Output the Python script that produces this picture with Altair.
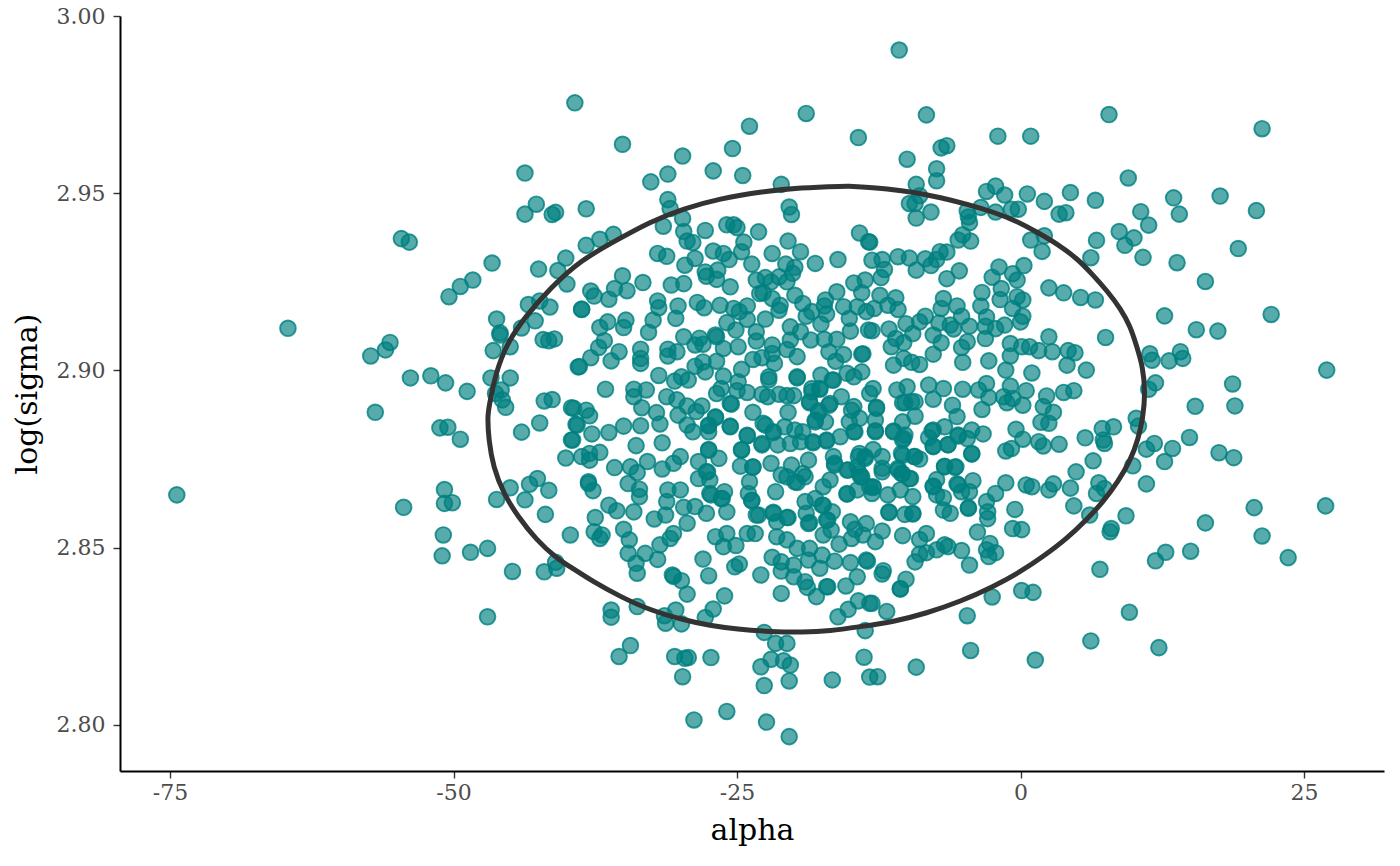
import altair as alt
import pandas as pd

alpha = [
-64.6,-54.6,-53.9,-46.6,-48.3,-49.4,-50.4,-43.7,-42.7,-43.7,-41.3,-41.0,-39.3,-42.5,-40.8,-40.1,-40.0,-43.4,-42.4,-41.5,-38.7,-46.2,-45.9,-45.9,-44.0,-42.8,-42.1,-41.6,-41.1,-46.5,-45.0,-39.0,-55.6,-56.0,-57.3,-53.8,-52.0,-50.7,-48.8,-46.7,-45.0,-45.8,-46.3,-45.7,-45.4,-42.0,-41.3,-39.6,-56.9,
-51.2,-50.5,-49.4,-44.0,-42.4,-39.6,-39.2,-40.1,-38.7,-74.4,-54.4,-50.8,-50.8,-50.1,-50.9,-51.0,-48.5,-47.0,-44.8,-42.0,-40.9,-41.0,-39.7,-41.9,-43.7,-46.2,-45.0,-43.3,-42.6,-41.6,-47.0,
-35.1,-18.9,-14.3,-23.9,-25.4,-29.8,-31.1,-32.6,-27.1,-24.5,-21.1,-31.1,-30.9,-38.3,-20.4,-20.2,-29.8,-31.5,-27.8,-25.9,-25.3,-25.0,-23.1,-14.2,-35.9,-37.1,-38.3,-29.7,-29.4,-28.9,-24.4,-20.5,-19.4,-27.1,-26.2,-24.6,-21.9,-32.0,-31.2,-13.4,
-29.6,-28.7,-27.8,-26.7,-26.8,-25.7,-27.7,-25.6,-23.7,-18.1,-16.1,-20.7,-19.9,-20.1,-21.3,-20.6,-23.3,-22.5,-22.0,-22.7,-23.0,-21.9,-19.9,-19.2,-21.2,-21.3,-17.2,-16.2,-14.7,-13.7,-14.0,-17.3,-15.6,-14.4,-13.6,-18.9,-18.4,-17.1,-15.1,-17.6,-15.0,-13.4,
-35.8,-35.1,-33.3,-34.7,-30.8,-29.7,-37.9,-37.6,-36.3,-38.7,-32.0,-31.9,-30.2,-30.4,-28.5,-27.9,-26.5,-25.3,-24.8,-24.1,-24.1,-22.5,-25.9,-32.4,-32.8,-34.8,-35.0,-36.4,-37.1,-36.7,-37.2,-35.4,-36.1,-37.9,-38.9,-33.5,-33.5,-33.5,-31.1,-31.1,-29.7,-30.3,-28.3,-28.7,-28.0,-26.8,-26.9,-26.2,-24.9,-25.1,-23.3,-23.3,-21.9,-21.9,-20.3,-19.4,-20.3,-20.6,-19.7,-18.5,-17.3,-16.2,-16.9,-15.6,-14.0,-16.3,-23.6,-22.8,-21.7,-26.8,-28.0,-28.7,-27.8,-24.6,
-31.9,-30.5,-29.9,-29.3,-26.2,-24.9,-22.2,-22.2,-19.7,-17.6,-16.6,-15.3,-14.7,-14.0,-36.6,-34.1,-34.1,-33.0,-26.4,-26.8,-25.0,-24.1,-22.8,-22.3,-21.3,-20.6,-20.0,-17.7,-18.4,-15.8,-13.3,-31.2,-30.3,-33.4,-29.4,-28.1,-25.5,-18.6,-16.9,-14.7,-39.4,-38.3,-38.0,-32.1,-30.2,-28.6,-26.9,-23.6,-20.5,-17.8,-14.9,
-39.1,-35.0,-33.5,-31.8,-29.4,-27.5,-25.6,-22.5,-20.8,-21.8,-18.1,-15.1,-37.8,-36.3,-39.5,-28.9,-27.5,-24.1,-19.4,-17.1,-14.7,-33.9,-31.6,-22.8,-18.3,-37.1,-38.0,-38.0,-24.6,-27.5,-30.0,-35.8,-34.4,-32.9,-33.8,-31.6,-30.6,-28.4,-26.6,-27.7,-24.7,-23.6,-22.0,-20.2,-18.7,-16.4,-14.3,-13.7,-15.2,-14.2,-19.2,-38.1,
-38.1,-37.7,-36.3,-35.6,-34.1,-33.6,-34.6,-33.6,-31.1,-30.0,-31.2,-28.7,-29.7,-27.3,-26.1,-26.4,-25.9,-27.7,-32.3,-31.3,-29.4,-37.5,-35.0,-37.6,-36.9,-37.1,-34.5,-33.1,-34.6,-33.9,-33.8,-32.0,-31.8,-30.9,-30.6,-30.7,-30.6,-29.9,-29.4,-28.0,-27.5,-26.1,-27.1,-27.8,-26.9,-26.2,-25.9,-25.1,-24.1,-23.4,-25.2,-24.8,-22.9,-21.1,-21.5,-20.6,-21.9,-21.1,-21.1,-20.0,-20.0,-19.0,-18.8,-19.7,-18.6,-17.5,-18.7,-17.7,-16.4,-17.1,-17.0,-18.0,-15.4,-14.4,-15.0,-13.6,-16.0,-14.9,-14.6,-13.9,-17.4,-16.7,-15.0,-13.6,-17.0,-16.6,-18.7,-18.9,-19.0,-17.5,-20.6,-21.8,-21.5,-23.1,-23.7,-24.0,-21.6,-15.3,-14.4,-17.4,-19.7,-23.9,-27.4,-28.4,-13.3,
-16.1,-15.2,-14.3,-13.3,-36.1,-36.1,-33.8,-31.4,-31.3,-30.4,-29.9,-22.6,-21.6,-20.6,-13.7,-34.4,-35.4,-30.5,-29.6,-29.3,-27.3,-22.0,-22.9,-20.9,-20.3,-20.4,-22.6,-16.6,-29.8,-13.8,-25.9,-28.8,-22.4,-20.4,-13.3,
-10.7,-8.3,7.8,21.3,-2.0,0.9,-6.5,-7.0,-10.0,-7.4,-7.4,9.5,-9.2,-2.2,-3.0,-1.4,0.6,4.4,6.6,2.1,13.5,17.6,20.8,14.0,10.6,11.3,3.4,4.0,-0.2,-0.8,-2.2,-3.5,-4.7,-4.6,-4.5,-8.9,-9.3,-9.8,-7.9,-9.2,8.7,10.0,9.2,6.7,6.2,10.8,13.8,19.2,16.3,12.7,15.5,17.4,22.1,27.0,2.1,0.9,1.9,-4.4,-5.1,-5.5,-13.3,-6.5,-7.1,-7.4,-8.4,-7.9,-9.2,-9.8,-10.8,-12.2,-13.1,-12.0,-12.3,-12.4,-11.0,-11.7,-10.8,-12.9,
-5.4,-6.5,-1.9,0.3,-2.5,-0.7,-0.3,-1.7,2.5,3.8,5.3,6.6,-3.4,-6.8,-7.0,-5.6,-5.2,-3.5,-1.8,-0.3,0.2,-0.7,-3.0,0.2,0.0,-1.4,-2.2,-3.1,-4.5,-6.2,-5.9,-7.2,-8.4,-8.9,-10.1,-13.1,-11.6,-9.5,-7.7,-11.0,-10.3,-7.0,-11.4,-7.7,-4.7,-5.2,-3.1,2.5,7.5,-0.9,0.8,0.1,1.6,2.8,4.2,4.8,11.4,11.6,13.1,14.1,14.3,-0.9,-2.8,-5.1,-13.9,-10.3,-9.6,-8.9,-11.2,4.1,-1.3,1.0,5.8,
18.7,15.4,18.9,11.9,11.3,2.3,3.8,4.7,0.5,-0.9,-3.0,-3.7,-5.1,-6.8,-8.1,-10.0,-10.9,-13.0,-2.8,-1.5,-1.2,0.2,-0.7,2.0,2.9,1.8,2.5,-3.4,-6.0,-5.6,-7.7,-10.4,-9.6,-9.3,-12.7,-12.8,-12.8,-10.4,-11.2,-10.2,-10.4,-6.7,-7.8,-8.1,-7.7,-6.4,-5.5,-4.7,-4.3,-3.3,-4.3,-0.4,0.2,-0.8,-1.3,1.6,2.0,3.4,5.7,7.2,8.2,7.3,7.4,10.2,10.4,11.8,11.1,13.4,14.9,12.7,17.5,18.8,9.9,6.4,4.9,11.1,6.9,7.4,6.7,4.4,2.9,2.5,0.5,1.0,-1.3,-2.2,-3.0,-2.9,-2.9,-4.6,-4.2,-4.5,-5.2,-5.6,-5.8,-6.7,-7.4,-7.7,-7.4,-6.8,-6.8,-6.2,-0.5,4.7,6.1,9.3,8.0,7.9,-0.7,0.1,-3.8,-10.4,-8.3,-8.9,-12.2,-12.8,-11.6,-10.2,-9.5,-11.7,-10.6,-9.5,-9.7,-10.5,-10.8,-12.2,-12.2,-13.0,-10.4,-9.4,-8.9,-13.0,-13.1,-14.0,
-6.7,-6.4,-7.4,-8.3,-8.9,-9.3,-5.2,-4.5,-2.7,-3.0,-2.2,-2.8,-13.5,-12.1,-12.2,-10.1,-10.6,-10.6,-13.1,-11.8,-2.5,0.1,1.1,-4.7,-12.6,-9.2,-4.4,1.3,6.2,9.6,12.2,7.0,11.9,12.8,15.0,23.6,21.3,16.3,20.6,26.9,
-22.7,-21.8,-20.8,-19.9,-19.2,-22.8,-20.3,-19.4,-18.3,-21.4,-18.1,-17.2,-17.8,-16.8,-18.6,-17.7,-18.4,-16.5,-15.1,-14.6,-15.9,-17.1,-12.8,-12.8,-12.7,-14.7,-14.2,-10.2,-9.3,-10.3,-11.2,-7.7,-7.7,-6.4,-4.7,-5.5,-4.3,-9.3,-10.5,-6.7,-5.7,-7.4,-4.5,-5.5,-7.7,-4.6,-6.2,-6.8,-9.5,-9.5,-10.6,-9.8,-10.4,-10.8,-12.2,-13.7,-14.2,-12.2,-14.4,-15.3,-14.1,-13.0,-14.4,-15.3,-11.7,-11.6,-16.4,-16.5,-18.7,-20.2,-21.1,-20.6,-19.0,-19.9,-17.4,-16.8,-21.6,-19.0,-18.1,-17.4,-16.6,-17.1,-23.3,-21.8,-21.5,-20.5,-18.9,-18.6,-23.7,-24.0,-23.9,-23.6,-24.7,-24.6,-24.1,-27.5,-26.6,-27.6,-27.4,-26.3,-25.9,-27.5,-26.9,-25.6,-25.6,-24.6,-19.7,
]
log_sigma = [
2.9119,2.9372,2.9362,2.9303,2.9255,2.9237,2.9208,2.9557,2.9469,2.9441,2.9440,2.9446,2.9755,2.9286,2.9282,2.9317,2.9244,2.9186,2.9196,2.9179,2.9173,2.9145,2.9106,2.9100,2.9120,2.9140,2.9087,2.9084,2.9089,2.9056,2.9067,2.9010,2.9079,2.9058,2.9041,2.8979,2.8985,2.8965,2.8941,2.8979,2.8979,2.8945,2.8935,2.8917,2.8896,2.8914,2.8918,2.8895,2.8882,
2.8838,2.8840,2.8806,2.8826,2.8852,2.8804,2.8848,2.8753,2.8757,2.8649,2.8614,2.8664,2.8625,2.8627,2.8536,2.8477,2.8487,2.8498,2.8433,2.8432,2.8442,2.8459,2.8536,2.8594,2.8635,2.8636,2.8669,2.8679,2.8695,2.8662,2.8305,
2.9638,2.9725,2.9657,2.9689,2.9626,2.9605,2.9554,2.9532,2.9563,2.9550,2.9525,2.9482,2.9457,2.9456,2.9461,2.9440,2.9429,2.9407,2.9395,2.9411,2.9411,2.9403,2.9391,2.9388,2.9384,2.9370,2.9353,2.9392,2.9365,2.9361,2.9362,2.9365,2.9335,2.9337,2.9330,2.9335,2.9330,2.9330,2.9322,2.9363,
2.9297,2.9316,2.9278,2.9283,2.9257,2.9313,2.9266,2.9236,2.9300,2.9302,2.9313,2.9300,2.9291,2.9274,2.9264,2.9250,2.9255,2.9262,2.9250,2.9219,2.9217,2.9203,2.9212,2.9189,2.9184,2.9170,2.9199,2.9222,2.9247,2.9255,2.9219,2.9182,2.9180,2.9180,2.9166,2.9153,2.9166,2.9159,2.9147,2.9131,2.9111,2.9114,
2.9231,2.9267,2.9248,2.9225,2.9241,2.9245,2.9224,2.9210,2.9201,2.9172,2.9196,2.9177,2.9182,2.9147,2.9192,2.9177,2.9184,2.9175,2.9166,2.9182,2.9144,2.9145,2.9135,2.9142,2.9108,2.9142,2.9121,2.9137,2.9121,2.9084,2.9065,2.9053,2.9027,2.9036,2.9011,2.9060,2.9034,2.9020,2.9060,2.9041,2.9095,2.9053,2.9091,2.9072,2.9074,2.9095,2.9100,2.9062,2.9067,2.9114,2.9109,2.9083,2.9072,2.9048,2.9123,2.9109,2.9086,2.9059,2.9039,2.9086,2.9088,2.9088,2.9053,2.9045,2.9046,2.9026,2.9031,2.9036,2.9020,2.9026,2.9024,2.9012,2.8996,2.9003,
2.8986,2.8970,2.8982,2.8973,2.8984,2.8968,2.8982,2.8974,2.8979,2.8987,2.8973,2.8992,2.8982,2.8996,2.8947,2.8947,2.8926,2.8945,2.8949,2.8935,2.8943,2.8938,2.8933,2.8926,2.8933,2.8929,2.8929,2.8947,2.8940,2.8926,2.8935,2.8926,2.8917,2.8895,2.8900,2.8900,2.8905,2.8909,2.8902,2.8898,2.8893,2.8888,2.8872,2.8881,2.8874,2.8884,2.8867,2.8882,2.8882,2.8882,2.8888,
2.8846,2.8843,2.8844,2.8849,2.8846,2.8844,2.8843,2.8846,2.8841,2.8825,2.8855,2.8855,2.8821,2.8825,2.8804,2.8827,2.8827,2.8816,2.8799,2.8801,2.8827,2.8788,2.8796,2.8790,2.8796,2.8769,2.8766,2.8747,2.8775,2.8777,2.8757,2.8726,2.8728,2.8743,2.8712,2.8722,2.8738,2.8743,2.8752,2.8714,2.8730,2.8727,2.8738,2.8733,2.8747,2.8733,2.8757,2.8757,2.8719,2.8709,2.8709,2.8686,
2.8681,2.8661,2.8620,2.8604,2.8601,2.8644,2.8681,2.8665,2.8663,2.8663,2.8630,2.8616,2.8614,2.8649,2.8658,2.8639,2.8601,2.8597,2.8581,2.8592,2.8569,2.8585,2.8552,2.8545,2.8536,2.8526,2.8522,2.8484,2.8484,2.8456,2.8428,2.8467,2.8508,2.8526,2.8540,2.8423,2.8419,2.8407,2.8369,2.8468,2.8421,2.8364,2.8327,2.8303,2.8531,2.8503,2.8540,2.8506,2.8540,2.8540,2.8446,2.8454,2.8423,2.8371,2.8531,2.8522,2.8473,2.8460,2.8434,2.8451,2.8418,2.8404,2.8388,2.8498,2.8498,2.8479,2.8465,2.8442,2.8462,2.8390,2.8578,2.8362,2.8392,2.8418,2.8458,2.8465,2.8510,2.8526,2.8552,2.8536,2.8536,2.8550,2.8573,2.8568,2.8390,2.8601,2.8568,2.8597,2.8630,2.8620,2.8585,2.8600,2.8573,2.8592,2.8632,2.8653,2.8658,2.8651,2.8663,2.8672,2.8684,2.8686,2.8691,2.8695,2.8672,
2.8305,2.8326,2.8350,2.8343,2.8324,2.8304,2.8334,2.8308,2.8287,2.8324,2.8285,2.8261,2.8230,2.8230,2.8266,2.8224,2.8193,2.8193,2.8188,2.8190,2.8190,2.8185,2.8164,2.8181,2.8169,2.8124,2.8111,2.8127,2.8136,2.8191,2.8038,2.8014,2.8008,2.7967,2.8135,
2.9904,2.9721,2.9722,2.9682,2.9661,2.9661,2.9634,2.9628,2.9596,2.9569,2.9535,2.9543,2.9525,2.9520,2.9505,2.9495,2.9498,2.9502,2.9480,2.9477,2.9487,2.9492,2.9451,2.9441,2.9448,2.9410,2.9441,2.9445,2.9455,2.9455,2.9447,2.9460,2.9450,2.9433,2.9417,2.9493,2.9471,2.9471,2.9447,2.9430,2.9392,2.9374,2.9353,2.9367,2.9318,2.9319,2.9304,2.9344,2.9251,2.9154,2.9115,2.9111,2.9158,2.9001,2.9380,2.9368,2.9336,2.9365,2.9383,2.9368,2.9362,2.9334,2.9335,2.9313,2.9315,2.9296,2.9283,2.9317,2.9321,2.9313,2.9311,2.9285,2.9262,2.9212,2.9205,2.9184,2.9172,2.9175,
2.9281,2.9259,2.9292,2.9296,2.9263,2.9273,2.9255,2.9231,2.9233,2.9219,2.9206,2.9199,2.9220,2.9203,2.9175,2.9182,2.9153,2.9182,2.9200,2.9208,2.9199,2.9175,2.9151,2.9153,2.9137,2.9128,2.9118,2.9125,2.9125,2.9128,2.9117,2.9134,2.9153,2.9137,2.9132,2.9112,2.9117,2.9104,2.9100,2.9090,2.9078,2.9078,2.9067,2.9046,2.9081,2.9065,2.9090,2.9095,2.9093,2.9076,2.9067,2.9067,2.9056,2.9053,2.9056,2.9050,2.9047,2.9029,2.9027,2.9053,2.9034,2.9041,2.9027,2.9023,2.9047,2.9034,2.9023,2.9017,2.9015,2.9015,2.9001,2.8993,2.9001,
2.8962,2.8899,2.8900,2.8965,2.8947,2.8928,2.8938,2.8943,2.8943,2.8956,2.8963,2.8945,2.8947,2.8949,2.8959,2.8954,2.8945,2.8949,2.8924,2.8926,2.8909,2.8902,2.8921,2.8898,2.8882,2.8854,2.8851,2.8890,2.8902,2.8870,2.8919,2.8909,2.8912,2.8871,2.8896,2.8860,2.8830,2.8855,2.8829,2.8818,2.8804,2.8841,2.8829,2.8811,2.8787,2.8791,2.8815,2.8808,2.8832,2.8821,2.8764,2.8834,2.8806,2.8780,2.8773,2.8799,2.8787,2.8792,2.8810,2.8836,2.8841,2.8804,2.8794,2.8865,2.8843,2.8794,2.8778,2.8780,2.8811,2.8743,2.8768,2.8754,2.8731,2.8745,2.8714,2.8680,2.8683,2.8667,2.8653,2.8668,2.8680,2.8663,2.8677,2.8672,2.8683,2.8653,2.8630,2.8601,2.8582,2.8613,2.8689,2.8658,2.8658,2.8680,2.8727,2.8728,2.8692,2.8672,2.8649,2.8641,2.8606,2.8597,2.8608,2.8618,2.8592,2.8590,2.8554,2.8545,2.8554,2.8551,2.8544,2.8534,2.8540,2.8523,2.8547,2.8517,2.8599,2.8594,2.8595,2.8649,2.8663,2.8644,2.8695,2.8709,2.8719,2.8714,2.8757,2.8777,2.8761,2.8757,2.8750,2.8670,2.8653,2.8700,
2.8508,2.8503,2.8494,2.8486,2.8482,2.8460,2.8492,2.8451,2.8512,2.8494,2.8486,2.8475,2.8462,2.8435,2.8426,2.8411,2.8385,2.8383,2.8343,2.8320,2.8361,2.8379,2.8374,2.8308,2.8136,2.8163,2.8210,2.8183,2.8237,2.8318,2.8218,2.8439,2.8463,2.8487,2.8490,2.8472,2.8533,2.8570,2.8613,2.8618,
2.8851,2.8827,2.8841,2.8832,2.8827,2.8794,2.8794,2.8799,2.8799,2.8790,2.8860,2.8855,2.8886,2.8907,2.8912,2.8949,2.8949,2.8973,2.8855,2.8827,2.8813,2.8804,2.8827,2.8860,2.8893,2.8898,2.8865,2.8909,2.8912,2.8808,2.8827,2.8832,2.8785,2.8790,2.8808,2.8818,2.8766,2.8757,2.8766,2.8730,2.8728,2.8649,2.8658,2.8677,2.8674,2.8611,2.8597,2.8606,2.8597,2.8644,2.8663,2.8695,2.8709,2.8724,2.8757,2.8752,2.8766,2.8724,2.8728,2.8719,2.8700,2.8672,2.8663,2.8653,2.8649,2.8601,2.8738,2.8757,2.8747,2.8733,2.8705,2.8700,2.8700,2.8686,2.8672,2.8691,2.8658,2.8630,2.8639,2.8620,2.8601,2.8578,2.8592,2.8597,2.8573,2.8585,2.8597,2.8571,2.8634,2.8653,2.8686,2.8728,2.8730,2.8777,2.8817,2.8775,2.8752,2.8714,2.8653,2.8639,2.8601,2.8846,2.8869,2.8841,2.8907,2.9003,2.8982,
]
ellipse_alpha = [-15.3,-14.2,-11.8,-9.2,-7.1,-4.7,-2.4,-0.3,1.4,3.2,5.0,6.4,7.7,8.8,9.7,10.2,10.8,11.0,10.8,10.4,9.7,8.6,7.3,5.8,4.1,2.0,0.0,-2.4,-5.3,-8.3,-11.2,-14.2,-16.8,-19.2,-22.1,-25.0,-27.4,-29.7,-32.7,-35.3,-37.7,-39.7,-40.9,-42.7,-44.3,-45.6,-46.5,-46.9,-47.0,-46.9,-46.3,-45.3,-43.7,-41.5,-38.8,-35.6,-32.7,-29.7,-26.5,-23.0,-19.4,-15.3,-15.3,-14.2]
ellipse_sigma = [2.9520,2.9518,2.9513,2.9502,2.9488,2.9469,2.9447,2.9421,2.9391,2.9358,2.9316,2.9269,2.9222,2.9175,2.9123,2.9072,2.9010,2.8935,2.8869,2.8808,2.8747,2.8686,2.8630,2.8578,2.8526,2.8475,2.8432,2.8390,2.8348,2.8315,2.8291,2.8277,2.8265,2.8261,2.8263,2.8270,2.8280,2.8296,2.8324,2.8362,2.8404,2.8446,2.8470,2.8522,2.8587,2.8653,2.8728,2.8804,2.8869,2.8893,2.8992,2.9076,2.9151,2.9231,2.9311,2.9368,2.9419,2.9457,2.9485,2.9504,2.9516,2.9520,2.9520,2.9518]
x_ticks = [-75, -50, -25, 0, 25]
y_ticks = [2.80, 2.85, 2.90, 2.95, 3.00]

n = min(len(alpha), len(log_sigma))
points = pd.DataFrame({"alpha": alpha[:n], "log_sigma": log_sigma[:n]}).drop_duplicates()
ring = pd.DataFrame({"alpha": ellipse_alpha, "log_sigma": ellipse_sigma, "i": list(range(len(ellipse_alpha)))})

FONT = "DejaVu Serif"
x = alt.X("alpha:Q", scale=alt.Scale(domain=[-79.41, 32.05], nice=False, zero=False),
          axis=alt.Axis(values=x_ticks, title="alpha", grid=False, labelExpr="'' + datum.value",
                        titleY=44, tickSize=7, labelPadding=4))
y = alt.Y("log_sigma:Q", scale=alt.Scale(domain=[2.787, 3.0], nice=False, zero=False),
          axis=alt.Axis(values=y_ticks, title="log(sigma)", grid=False, format=".2f",
                        titleX=-78, tickSize=7, labelPadding=8))

dots = alt.Chart(points).mark_point(filled=False, shape="circle", size=245, fill="#008080", fillOpacity=0.66,
                                    stroke="#008080", strokeOpacity=0.8, strokeWidth=1.9).encode(x=x, y=y)
line = alt.Chart(ring).mark_line(color="#333333", strokeWidth=5, strokeJoin="round", interpolate="basis").encode(
    x="alpha:Q", y="log_sigma:Q", order="i:Q")

chart = (dots + line).properties(
    width=1264, height=755, autosize=alt.AutoSizeParams(type="none"),
    padding={"left": 112, "top": 8, "right": 8, "bottom": 94},
).configure_view(stroke=None).configure_axis(
    domainColor="#000000", domainWidth=2, tickColor="#333333", tickWidth=1.4,
    labelColor="#4d4d4d", labelFont=FONT, labelFontSize=22,
    titleColor="#000000", titleFont=FONT, titleFontSize=30, titleFontWeight="normal",
)
chart.save("out.html", embed_options={"renderer": "svg", "actions": False})
